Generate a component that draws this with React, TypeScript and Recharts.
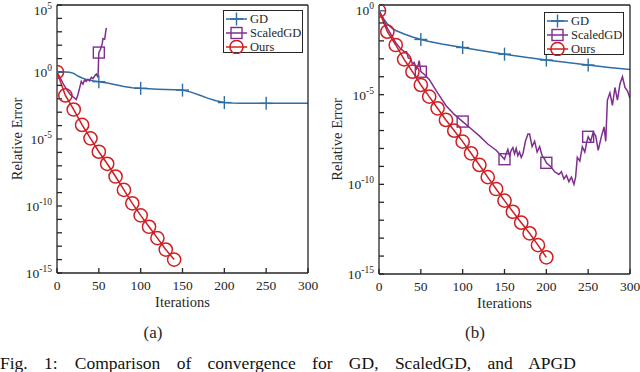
import { Legend, Line, LineChart, XAxis, YAxis } from "recharts";

const FONT = '"Liberation Serif", "Times New Roman", serif';
const INK = "#262626";
const BLUE = "#2e6da4";
const PURPLE = "#7e2f8e";
const RED = "#cf1f23";

// x axis
const ITER_TICKS = [0, 50, 100, 150, 200, 250, 300];

// y axis (log), one tick per decade, labels every 5 decades
const Y_TICKS_A = [
  1e-15, 1e-14, 1e-13, 1e-12, 1e-11, 1e-10, 1e-9, 1e-8, 1e-7, 1e-6, 1e-5,
  1e-4, 1e-3, 1e-2, 1e-1, 1e0, 1e1, 1e2, 1e3, 1e4, 1e5,
];
const Y_TICKS_B = [
  1e-15, 1e-14, 1e-13, 1e-12, 1e-11, 1e-10, 1e-9, 1e-8, 1e-7, 1e-6, 1e-5,
  1e-4, 1e-3, 1e-2, 1e-1, 1e0,
];

// (a) iterations and log10(relative error)
const GD_A_IT = [0, 5, 10, 15, 20, 25, 30, 35, 40, 45, 50, 60, 70, 80, 90, 100, 110, 120, 130, 140, 150, 160, 170, 180, 190, 200, 210, 220, 250, 300];
const GD_A_EXP = [0, 0, 0, -0.02, -0.1, -0.3, -0.45, -0.55, -0.62, -0.68, -0.72, -0.82, -0.95, -1.08, -1.17, -1.22, -1.25, -1.28, -1.3, -1.32, -1.35, -1.5, -1.72, -1.95, -2.15, -2.28, -2.32, -2.33, -2.34, -2.34];

const SGD_A_IT = [0, 4, 8, 12, 16, 20, 23, 25, 27, 29, 31, 33, 35, 37, 39, 41, 43, 45, 47, 49, 50, 52, 54, 55, 57, 58, 59];
const SGD_A_EXP = [0, -0.45, -0.95, -1.35, -1.7, -1.9, -2.05, -1.7, -1.2, -0.7, -0.9, -0.6, -0.7, -0.55, -0.65, -0.4, -0.5, -0.3, -0.15, -0.4, 1.45, 1.7, 2.1, 2.5, 2.45, 2.9, 3.3];

const OURS_A_IT = [0, 10, 20, 30, 40, 50, 60, 70, 80, 90, 100, 110, 120, 130, 140];
const OURS_A_EXP = [0, -1.75, -2.8, -3.95, -4.95, -5.95, -6.85, -7.8, -8.8, -9.8, -10.7, -11.55, -12.4, -13.25, -14.0];

// (b)
const GD_B_IT = [0, 2, 5, 10, 15, 20, 25, 30, 40, 50, 60, 75, 100, 125, 150, 175, 200, 225, 250, 275, 300];
const GD_B_EXP = [-0.32, -0.5, -0.75, -1.05, -1.28, -1.42, -1.52, -1.62, -1.78, -1.92, -2.03, -2.17, -2.37, -2.56, -2.74, -2.91, -3.07, -3.21, -3.35, -3.48, -3.6];

const SGD_B_IT = [0, 5, 10, 15, 20, 25, 30, 33, 35, 38, 40, 42, 45, 47, 48, 50, 55, 60, 70, 80, 90, 100, 110, 120, 130, 140, 150, 152, 154, 156, 158, 160, 162, 164, 166, 168, 170, 172, 175, 178, 180, 183, 186, 189, 192, 195, 198, 200, 205, 210, 215, 218, 221, 224, 227, 230, 233, 235, 237, 240, 243, 246, 248, 250, 253, 256, 259, 262, 266, 269, 271, 273, 276, 279, 282, 285, 288, 291, 294, 297, 300];
const SGD_B_EXP = [-0.32, -0.75, -1.3, -1.7, -2.1, -2.4, -2.6, -2.6, -2.95, -3.0, -3.3, -3.2, -3.55, -3.3, -3.1, -3.72, -3.9, -4.15, -4.9, -5.6, -6.1, -6.5, -6.9, -7.3, -7.75, -8.1, -8.6, -8.3, -8.05, -8.4, -8.1, -7.95, -8.3, -8.0, -8.4, -8.2, -8.5, -8.3, -7.6, -7.2, -7.2, -7.9, -7.6, -8.2, -7.9, -8.4, -8.6, -8.8, -9.0, -9.3, -9.45, -9.3, -9.7, -9.5, -9.85, -9.6, -10.0, -9.6, -8.5, -8.7, -7.9, -8.2, -7.7, -7.35, -7.6, -7.1, -7.3, -8.1, -7.3, -6.8, -7.6, -5.3, -4.9, -5.6, -4.6, -5.3, -4.4, -4.0, -4.6, -4.8, -5.2];

const OURS_B_IT = [0, 10, 20, 30, 40, 50, 60, 70, 80, 90, 100, 110, 120, 130, 140, 150, 160, 170, 180, 190, 200];
const OURS_B_EXP = [-0.32, -1.49, -2.23, -3.03, -3.72, -4.46, -5.11, -5.76, -6.41, -7.01, -7.62, -8.27, -8.92, -9.6, -10.26, -10.91, -11.53, -12.14, -12.73, -13.39, -14.07];

// iterations where markers are drawn
const GD_MARKS = [0, 50, 100, 150, 200, 250];
const SGD_MARKS = [50, 100, 150, 200, 250];

const pts = (it: number[], ex: number[]) =>
  it.map((x, i) => ({ x, y: Math.pow(10, ex[i]) }));

type Kind = "plus" | "square" | "circle";

const SERIES: { name: string; color: string; kind: Kind }[] = [
  { name: "GD", color: BLUE, kind: "plus" },
  { name: "ScaledGD", color: PURPLE, kind: "square" },
  { name: "Ours", color: RED, kind: "circle" },
];

const AXIS = { stroke: INK, strokeWidth: 1.3 };

function Marker({ kind, cx, cy, color }: { kind: Kind; cx: number; cy: number; color: string }) {
  if (kind === "plus") {
    return (
      <g stroke={color} strokeWidth={1.4}>
        <line x1={cx - 6.5} x2={cx + 6.5} y1={cy} y2={cy} />
        <line x1={cx} x2={cx} y1={cy - 6.5} y2={cy + 6.5} />
      </g>
    );
  }
  if (kind === "square") {
    return <rect x={cx - 5.5} y={cy - 5.5} width={11} height={11} fill="none" stroke={color} strokeWidth={1.4} />;
  }
  return <circle cx={cx} cy={cy} r={6.6} fill="none" stroke={color} strokeWidth={1.5} />;
}

const markerDot = (kind: Kind, color: string, marks: number[] | null) => (p: any) => {
  const { cx, cy, payload, index } = p;
  if (cx == null || cy == null || (marks && !marks.includes(payload.x))) {
    return <g key={`d${index}`} />;
  }
  return <Marker key={`d${index}`} kind={kind} cx={cx} cy={cy} color={color} />;
};

// label every 5th decade; the top label sits a little lower so it stays inside the page
const DecadeTick = (p: any) => {
  const e = Math.round(Math.log10(p.payload.value));
  if (e % 5 !== 0) return <g />;
  const top = p.index === p.visibleTicksCount - 1;
  return (
    <text x={p.x} y={p.y + (top ? 10 : 5)} textAnchor="end" fill={INK} fontSize={13.5} fontFamily={FONT}>
      10
      <tspan dy={-6} fontSize={9.5}>
        {e === 0 ? "0" : String(e)}
      </tspan>
    </text>
  );
};

function LegendBox() {
  return (
    <div
      style={{
        width: 80,
        height: 43,
        boxSizing: "border-box",
        border: `1.3px solid ${INK}`,
        background: "#fff",
        paddingTop: 1,
      }}
    >
      {SERIES.map((s) => (
        <div key={s.name} style={{ display: "flex", alignItems: "center", height: 14 }}>
          <svg width={26} height={14} style={{ flex: "none" }}>
            <line x1={2} x2={23} y1={7} y2={7} stroke={s.color} strokeWidth={1.5} />
            <Marker kind={s.kind} cx={12.5} cy={7} color={s.color} />
          </svg>
          <span style={{ fontFamily: FONT, fontSize: 12.5, color: INK, lineHeight: "14px" }}>{s.name}</span>
        </div>
      ))}
    </div>
  );
}

type PanelProps = {
  yTicks: number[];
  gd: { x: number; y: number }[];
  sgd: { x: number; y: number }[];
  ours: { x: number; y: number }[];
  margin: { top: number; right: number; bottom: number; left: number };
  legendAt: { left: number; top: number };
  labelX: number;
  labelY: number;
};

function Panel({ yTicks, gd, sgd, ours, margin, legendAt, labelX, labelY }: PanelProps) {
  const yDomain = [yTicks[0], yTicks[yTicks.length - 1]];
  return (
    <LineChart width={320} height={320} margin={margin}>
      <XAxis
        xAxisId="b"
        dataKey="x"
        type="number"
        domain={[0, 300]}
        allowDataOverflow
        ticks={ITER_TICKS}
        interval={0}
        height={40}
        tickSize={-5}
        tickMargin={12}
        tick={{ fill: INK, fontSize: 13.5, fontFamily: FONT }}
        axisLine={AXIS}
        tickLine={AXIS}
        label={{ value: "Iterations", position: "insideBottom", offset: 6, fill: INK, fontSize: 14.5, fontFamily: FONT }}
      />
      <XAxis
        xAxisId="t"
        orientation="top"
        dataKey="x"
        type="number"
        domain={[0, 300]}
        allowDataOverflow
        ticks={ITER_TICKS}
        interval={0}
        height={1}
        tickSize={-5}
        tick={false}
        axisLine={AXIS}
        tickLine={AXIS}
      />
      <YAxis
        yAxisId="l"
        type="number"
        scale="log"
        domain={yDomain}
        allowDataOverflow
        ticks={yTicks}
        interval={0}
        width={45}
        tickSize={-5}
        tickMargin={10}
        tick={DecadeTick}
        axisLine={AXIS}
        tickLine={AXIS}
        label={() => (
          <text
            transform={`translate(${labelX},${labelY}) rotate(-90)`}
            textAnchor="middle"
            fill={INK}
            fontSize={14.5}
            fontFamily={FONT}
          >
            Relative Error
          </text>
        )}
      />
      <YAxis
        yAxisId="r"
        orientation="right"
        type="number"
        scale="log"
        domain={yDomain}
        allowDataOverflow
        ticks={yTicks}
        interval={0}
        width={1}
        tickSize={-5}
        tick={false}
        axisLine={AXIS}
        tickLine={AXIS}
      />
      <Legend
        layout="vertical"
        align="center"
        verticalAlign="middle"
        content={() => <LegendBox />}
        wrapperStyle={{ position: "absolute", left: legendAt.left, top: legendAt.top, width: 80, height: 43 }}
      />
      <Line
        xAxisId="b"
        yAxisId="l"
        data={gd}
        dataKey="y"
        name="GD"
        stroke={BLUE}
        strokeWidth={1.5}
        dot={markerDot("plus", BLUE, GD_MARKS)}
        activeDot={false}
        isAnimationActive={false}
      />
      <Line
        xAxisId="b"
        yAxisId="l"
        data={sgd}
        dataKey="y"
        name="ScaledGD"
        stroke={PURPLE}
        strokeWidth={1.5}
        dot={markerDot("square", PURPLE, SGD_MARKS)}
        activeDot={false}
        isAnimationActive={false}
      />
      <Line
        xAxisId="b"
        yAxisId="l"
        data={ours}
        dataKey="y"
        name="Ours"
        stroke={RED}
        strokeWidth={1.5}
        dot={markerDot("circle", RED, null)}
        activeDot={false}
        isAnimationActive={false}
      />
    </LineChart>
  );
}

const CAPTION = ["Comparison", "of", "convergence", "for", "GD,", "ScaledGD,", "and", "APGD"];

export default function App() {
  return (
    <div style={{ position: "relative", width: 640, height: 372, overflow: "hidden", background: "#fff" }}>
      <style>{"body{margin:0}"}</style>
      <div style={{ position: "absolute", left: 0, top: 0 }}>
        <Panel
          yTicks={Y_TICKS_A}
          gd={pts(GD_A_IT, GD_A_EXP)}
          sgd={pts(SGD_A_IT, SGD_A_EXP)}
          ours={pts(OURS_A_IT, OURS_A_EXP)}
          margin={{ top: 4, right: 11, bottom: 7, left: 12 }}
          legendAt={{ left: 223, top: 10 }}
          labelX={21.5}
          labelY={139}
        />
      </div>
      <div style={{ position: "absolute", left: 320, top: 0 }}>
        <Panel
          yTicks={Y_TICKS_B}
          gd={pts(GD_B_IT, GD_B_EXP)}
          sgd={pts(SGD_B_IT, SGD_B_EXP)}
          ours={pts(OURS_B_IT, OURS_B_EXP)}
          margin={{ top: 4, right: 9, bottom: 6, left: 14 }}
          legendAt={{ left: 224, top: 12 }}
          labelX={21.5}
          labelY={139.5}
        />
      </div>
      <div style={{ position: "absolute", left: 153, top: 323, transform: "translateX(-50%)", fontFamily: FONT, fontSize: 17, lineHeight: "20px", color: INK }}>
        (a)
      </div>
      <div style={{ position: "absolute", left: 475, top: 323, transform: "translateX(-50%)", fontFamily: FONT, fontSize: 17, lineHeight: "20px", color: INK }}>
        (b)
      </div>
      <div style={{ position: "absolute", left: 0, top: 353, whiteSpace: "nowrap", fontFamily: FONT, fontSize: 17.5, lineHeight: "20px", color: "#111", wordSpacing: 12 }}>
        <span style={{ marginRight: 17 }}>Fig. 1:</span>
        {CAPTION.join(" ")}
      </div>
    </div>
  );
}
